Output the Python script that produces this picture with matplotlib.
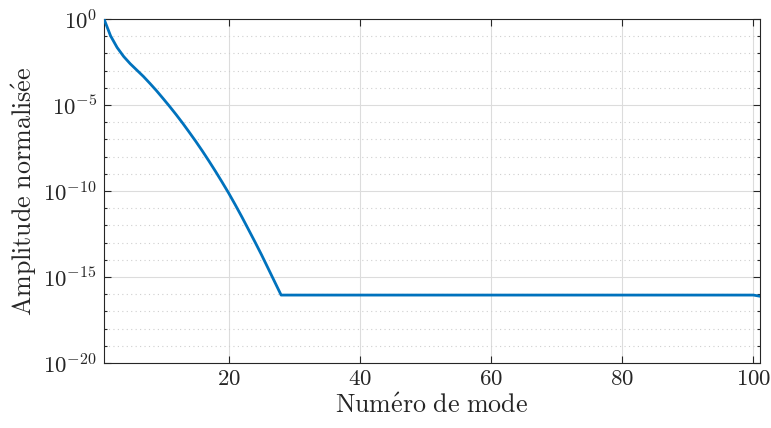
import matplotlib
matplotlib.use("Agg")
import matplotlib.pyplot as plt
from matplotlib.ticker import FixedLocator, LogFormatterMathtext, NullFormatter

# amplitude normalisée par mode
modes_decay = list(range(1, 29))
amp_decay = [1.0, 1.05e-1, 2.2e-2, 6.6e-3, 2.5e-3, 1.07e-3, 4.6e-4, 1.8e-4,
             6.8e-5, 2.4e-5, 8.3e-6, 2.75e-6, 8.7e-7, 2.6e-7, 7.6e-8, 2.1e-8,
             5.5e-9, 1.38e-9, 3.3e-10, 7.6e-11, 1.6e-11, 3.2e-12, 6.0e-13,
             1.12e-13, 2.0e-14, 3.3e-15, 5.4e-16, 8.9e-17]
modes_plateau = list(range(29, 102))
amp_plateau = [8.9e-17] * 72 + [7.6e-17]

modes = modes_decay + modes_plateau
amp = amp_decay + amp_plateau

x_ticks = [20, 40, 60, 80, 100]
y_major = [1e-20, 1e-15, 1e-10, 1e-5, 1e0]
y_minor = [10.0 ** k for k in range(-20, 1) if k % 5 != 0]

plt.rcParams['mathtext.fontset'] = 'cm'
plt.rcParams['font.family'] = 'serif'
plt.rcParams['font.serif'] = ['cmr10', 'DejaVu Serif']
plt.rcParams['axes.formatter.use_mathtext'] = True

fig = plt.figure(figsize=(7.71, 4.28), dpi=100)
ax = fig.add_axes([104 / 771, 1 - 363 / 428, 656 / 771, 344 / 428])

ax.semilogy(modes, amp, color='#0072BD', lw=2.0, zorder=3)

ax.set_xlim(1, 101)
ax.set_ylim(1e-20, 1e0)
ax.xaxis.set_major_locator(FixedLocator(x_ticks))
ax.yaxis.set_major_locator(FixedLocator(y_major))
ax.yaxis.set_minor_locator(FixedLocator(y_minor))
ax.yaxis.set_major_formatter(LogFormatterMathtext())
ax.yaxis.set_minor_formatter(NullFormatter())

ax.grid(True, which='major', color='#dcdcdc', lw=0.8, ls='-', zorder=0)
ax.grid(True, which='minor', axis='y', color='#cfcfcf', lw=0.8, ls=(0, (1, 3)), zorder=0)

ax.tick_params(which='both', direction='in', top=True, right=True, colors='#262626',
               labelsize=16.5)
ax.tick_params(which='major', length=5, width=0.8, pad=5)
ax.tick_params(which='minor', length=2.5, width=0.8)
for s in ax.spines.values():
    s.set_color('#262626')
    s.set_linewidth(0.8)

ax.set_xlabel(r"$\mathrm{Num\'ero\ de\ mode}$", fontsize=18.7, color='#262626', labelpad=3)
ax.set_ylabel(r"$\mathrm{Amplitude\ normalis\'ee}$", fontsize=18.7, color='#262626', labelpad=3)

fig.savefig("out.png", dpi=100)
